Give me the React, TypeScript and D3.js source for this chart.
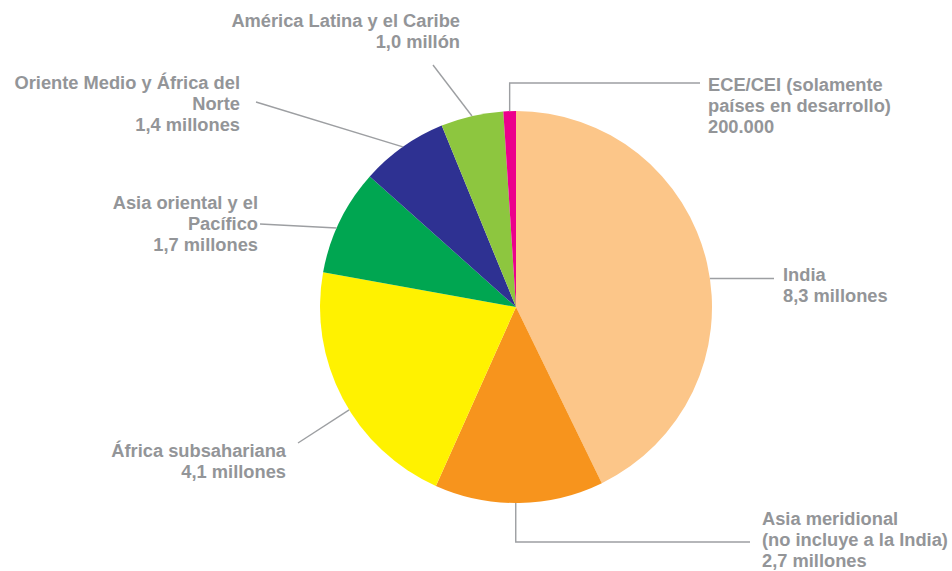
import React from "react";
import * as d3 from "d3";

// Regions and values (millions of people)
const regions = [
  "India",
  "Asia meridional",
  "África subsahariana",
  "Asia oriental y el Pacífico",
  "Oriente Medio y África del Norte",
  "América Latina y el Caribe",
  "ECE/CEI",
];
const values = [8.3, 2.7, 4.1, 1.7, 1.4, 1.0, 0.2];
const labelLines = [
  ["India", "8,3 millones"],
  ["Asia meridional", "(no incluye a la India)", "2,7 millones"],
  ["África subsahariana", "4,1 millones"],
  ["Asia oriental y el", "Pacífico", "1,7 millones"],
  ["Oriente Medio y África del", "Norte", "1,4 millones"],
  ["América Latina y el Caribe", "1,0 millón"],
  ["ECE/CEI (solamente", "países en desarrollo)", "200.000"],
];
const colors = ["#fcc689", "#f7941d", "#fff200", "#00a651", "#2e3192", "#8dc63f", "#ec008c"];

// label layout: where along the slice the leader starts, how it runs, where text sits
type Layout = {
  t: number;
  kind: "h" | "elbow" | "direct";
  ex: number;
  ey: number;
  tx: number;
  ty: number;
  anchor: "start" | "end";
};
const layout: Layout[] = [
  { t: 0.53, kind: "h", ex: 774, ey: 0, tx: 783, ty: 281, anchor: "start" },
  { t: 0.52, kind: "elbow", ex: 750, ey: 542, tx: 762, ty: 525, anchor: "start" },
  { t: 0.45, kind: "direct", ex: 298, ey: 443, tx: 286, ty: 457, anchor: "end" },
  { t: 0.43, kind: "direct", ex: 260, ey: 224, tx: 258, ty: 209, anchor: "end" },
  { t: 0.5, kind: "direct", ex: 256, ey: 102, tx: 240, ty: 89, anchor: "end" },
  { t: 0.5, kind: "direct", ex: 433, ey: 65, tx: 460, ty: 27, anchor: "end" },
  { t: 0.5, kind: "elbow", ex: 700, ey: 83, tx: 708, ty: 91, anchor: "start" },
];

const W = 952;
const H = 571;
const cx = 516;
const cy = 307;
const R = 196;
const textColor = "#939598";
const lineColor = "#9d9fa2";

export default function App() {
  const pie = d3
    .pie<number>()
    .sort(null)
    .value((d) => d);
  const arcs = pie(values);
  const arc = d3.arc<d3.PieArcDatum<number>>().innerRadius(0).outerRadius(R);

  const leader = (i: number) => {
    const a = arcs[i];
    const L = layout[i];
    const ang = a.startAngle + (a.endAngle - a.startAngle) * L.t;
    const sx = R * Math.sin(ang);
    const sy = -R * Math.cos(ang);
    let pts: [number, number][];
    if (L.kind === "h") pts = [[sx, sy], [L.ex - cx, sy]];
    else if (L.kind === "elbow") pts = [[sx, sy], [sx, L.ey - cy], [L.ex - cx, L.ey - cy]];
    else pts = [[sx, sy], [L.ex - cx, L.ey - cy]];
    return d3.line()(pts) || "";
  };

  return (
    <svg
      width={W}
      height={H}
      style={{ position: "absolute", left: 0, top: 0, background: "#fff" }}
      fontFamily="'Liberation Sans', Arial, sans-serif"
    >
      <g transform={`translate(${cx},${cy})`}>
        {arcs.map((a, i) => (
          <path key={regions[i]} d={arc(a) || ""} fill={colors[i]} />
        ))}
        {arcs.map((a, i) => (
          <path key={"l" + i} d={leader(i)} fill="none" stroke={lineColor} strokeWidth={1.4} />
        ))}
      </g>
      {labelLines.map((lines, i) => (
        <text
          key={"t" + i}
          x={layout[i].tx}
          y={layout[i].ty}
          textAnchor={layout[i].anchor}
          fill={textColor}
          fontSize={18.3}
          fontWeight="bold"
        >
          {lines.map((s, j) => (
            <tspan key={j} x={layout[i].tx} dy={j === 0 ? 0 : 21.2}>
              {s}
            </tspan>
          ))}
        </text>
      ))}
    </svg>
  );
}
